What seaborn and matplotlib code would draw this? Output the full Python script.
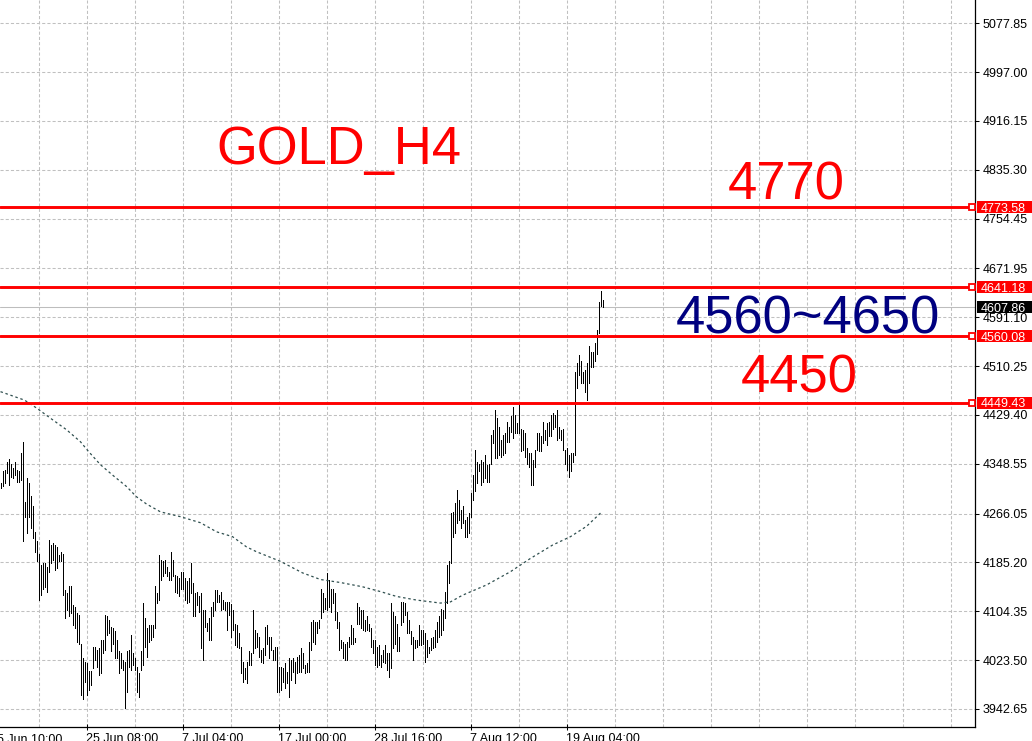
import numpy as np
import pandas as pd
import matplotlib
matplotlib.use("Agg")
import matplotlib.pyplot as plt
import seaborn as sns
from matplotlib.ticker import FixedLocator
from matplotlib.patches import Rectangle

# ---------------- data ----------------
highs = [
    4316, 4336, 4338, 4352, 4356, 4349, 4341, 4352, 4338, 4336,
    4367, 4385, 4286, 4325, 4316, 4295, 4278, 4236, 4221, 4200,
    4181, 4184, 4184, 4178, 4222, 4214, 4217, 4214, 4211, 4198,
    4202, 4200, 4140, 4134, 4146, 4146, 4115, 4112, 4101, 4098,
    4051, 4027, 4021, 4018, 4005, 4005, 4046, 4046, 4040, 4043,
    4057, 4057, 4098, 4096, 4090, 4079, 4076, 4071, 4057, 4038,
    4035, 4024, 4021, 4038, 4040, 4065, 4035, 4027, 4013, 4002,
    4038, 4118, 4093, 4076, 4082, 4082, 4082, 4146, 4134, 4198,
    4189, 4187, 4189, 4178, 4170, 4203, 4189, 4165, 4162, 4159,
    4170, 4170, 4159, 4154, 4159, 4184, 4151, 4134, 4137, 4129,
    4134, 4107, 4107, 4085, 4093, 4112, 4120, 4140, 4140, 4131,
    4137, 4123, 4120, 4120, 4120, 4117, 4107, 4083, 4082, 4068,
    4046, 4021, 4010, 4021, 4038,
    4035, 4107, 4073, 4068, 4062,
    4040, 4043, 4079, 4082, 4062, 4062, 4040, 4046, 4046, 4013,
    4013, 4010, 4018, 4004, 4027, 4024, 4027, 4021, 4029, 4032,
    4043, 4035, 4016, 4018, 4054, 4087, 4090, 4087, 4087, 4090,
    4142, 4134, 4126, 4167, 4156, 4142, 4142, 4134, 4104, 4087,
    4057, 4054, 4051, 4054, 4062, 4082, 4076, 4060, 4118, 4112,
    4107, 4107, 4090, 4096, 4084, 4076, 4057, 4057, 4046, 4049,
    4032, 4040, 4049, 4035, 4035, 4118, 4104, 4096, 4084, 4062,
    4120, 4120, 4118, 4104, 4090, 4071, 4062, 4057, 4057, 4082,
    4073, 4073, 4068, 4057, 4046, 4060, 4062, 4073, 4087, 4096,
    4109, 4107, 4137, 4181, 4187, 4267, 4269, 4283, 4305, 4289,
    4272, 4278, 4256, 4261, 4267, 4300, 4330, 4371, 4352, 4349,
    4355, 4352, 4363, 4347, 4349, 4396, 4405, 4438, 4424, 4410,
    4388, 4396, 4399, 4418, 4410, 4427, 4443, 4429, 4416, 4449,
    4407, 4405, 4399, 4374, 4366, 4366, 4355, 4371, 4399, 4399,
    4394, 4418, 4405, 4416, 4418, 4429, 4432, 4429, 4438, 4410,
    4405, 4407, 4371, 4374, 4363, 4366, 4366, 4501, 4515, 4529,
    4518, 4501, 4504, 4515, 4543, 4534, 4534, 4548, 4570, 4617,
    4634, 4620,
]
lows = [
    4308, 4311, 4316, 4333, 4314, 4327, 4325, 4330, 4319, 4319,
    4322, 4220, 4261, 4234, 4261, 4242, 4225, 4203, 4187, 4123,
    4131, 4142, 4145, 4137, 4170, 4184, 4189, 4173, 4176, 4187,
    4187, 4131, 4093, 4107, 4096, 4101, 4082, 4076, 4054, 4051,
    3966, 3960, 3988, 3966, 3974, 3982, 4010, 4024, 4013, 3999,
    4002, 4035, 4040, 4065, 4068, 4038, 4051, 4027, 4027, 4002,
    4010, 4007, 3944, 3971, 4013, 4007, 4016, 4007, 3971, 3963,
    4007, 4016, 4046, 4029, 4054, 4057, 4062, 4076, 4118, 4123,
    4156, 4162, 4167, 4162, 4156, 4156, 4162, 4137, 4134, 4129,
    4142, 4142, 4123, 4118, 4120, 4134, 4096, 4096, 4115, 4104,
    4043, 4024, 4079, 4071, 4057, 4057, 4096, 4107, 4120, 4120,
    4107, 4109, 4107, 4073, 4098, 4062, 4073, 4049, 4046, 4043,
    4002, 3988, 3993, 3985, 4016,
    4016, 4035, 4043, 4046, 4029,
    4021, 4018, 4032, 4051, 4027, 4040, 4024, 4024, 3971, 3971,
    3974, 3988, 3977, 3985, 3963, 3991, 4004, 3985, 4002, 4004,
    4004, 4010, 4002, 4004, 4004, 4040, 4054, 4051, 4068, 4076,
    4093, 4104, 4109, 4107, 4112, 4104, 4118, 4090, 4076, 4040,
    4043, 4027, 4024, 4024, 4046, 4051, 4051, 4054, 4084, 4084,
    4076, 4073, 4071, 4073, 4071, 4046, 4035, 4016, 4013, 4016,
    4013, 4021, 4018, 4007, 3996, 4010, 4043, 4051, 4038, 4038,
    4082, 4087, 4098, 4068, 4068, 4051, 4024, 4043, 4046, 4049,
    4049, 4051, 4021, 4029, 4035, 4040, 4043, 4046, 4054, 4062,
    4065, 4073, 4093, 4118, 4151, 4184, 4228, 4234, 4250, 4256,
    4242, 4250, 4228, 4228, 4234, 4261, 4289, 4303, 4316, 4336,
    4314, 4319, 4325, 4319, 4319, 4349, 4383, 4358, 4358, 4363,
    4360, 4363, 4366, 4385, 4385, 4402, 4391, 4399, 4399, 4399,
    4369, 4371, 4360, 4349, 4344, 4314, 4314, 4344, 4371, 4369,
    4369, 4383, 4388, 4380, 4394, 4394, 4407, 4410, 4388, 4391,
    4388, 4371, 4349, 4338, 4327, 4336, 4352, 4363, 4474, 4496,
    4482, 4482, 4468, 4454, 4482, 4509, 4509, 4518, 4531, 4565,
    4609, 4608,
]
ma_bar = [0, 12, 18, 25, 33, 40, 44, 50, 56, 63, 68, 73, 80, 90, 100, 108,
          116, 123, 128, 140, 151, 160, 170, 181, 190, 198, 208, 220, 225,
          231, 243, 255, 265, 276, 285, 293, 300]
ma_value = [4468, 4454, 4441, 4424, 4405, 4385, 4369, 4347, 4330, 4311, 4294,
            4282, 4269, 4261, 4251, 4236, 4228, 4211, 4203, 4187, 4168, 4157,
            4152, 4145, 4137, 4129, 4123, 4118, 4120, 4131, 4148, 4170, 4192,
            4214, 4228, 4245, 4267]

level_prices = [4773.58, 4641.18, 4560.08, 4449.43]
bid_price = 4607.86
ytick_values = [5077.85, 4997.00, 4916.15, 4835.30, 4754.45, 4671.95, 4591.10,
                4510.25, 4429.40, 4348.55, 4266.05, 4185.20, 4104.35, 4023.50,
                3942.65]
xtick_bars = [43, 91, 139, 187, 235, 283]
xtick_labels = ["25 Jun 08:00", "7 Jul 04:00", "17 Jul 00:00",
                "28 Jul 16:00", "7 Aug 12:00", "19 Aug 04:00"]
first_label_bar = -5
first_label = "15 Jun 10:00"
grid_bars = list(range(19, 480, 24))

title_text = "GOLD_H4"
note_texts = ["4770", "4560~4650", "4450"]

# ---------------- style ----------------
sns.set_theme(style="white")
plt.rcParams["font.family"] = ["Liberation Sans", "DejaVu Sans"]

W, H = 1032, 741
fig = plt.figure(figsize=(W / 100, H / 100), dpi=100)
fig.patch.set_facecolor("white")
ax = fig.add_axes([0, 14 / H, 975 / W, 1 - 14 / H])
ax.set_facecolor("white")

bars = pd.DataFrame({"bar": np.arange(len(highs)), "high": highs, "low": lows})
ax.vlines(bars["bar"], bars["low"], bars["high"], color="black",
          linewidth=0.7, zorder=3, antialiased=False)

ma = pd.DataFrame({"bar": ma_bar, "ma": ma_value})
sns.lineplot(data=ma, x="bar", y="ma", ax=ax, color="#2F4F4F",
             linewidth=0.9, zorder=3)
ax.lines[-1].set_linestyle((0, (2, 2.2)))

ax.set_xlim(-0.25, 487.25)
ax.set_ylim(3912.84, 5116.42)
ax.set_xlabel("")
ax.set_ylabel("")

# grid
grid_kw = dict(color="#C0C0C0", linestyle=(0, (3, 2)), linewidth=0.75)
ax.set_axisbelow(True)
ax.set_xticks(xtick_bars)
ax.set_xticklabels(xtick_labels)
ax.xaxis.set_minor_locator(FixedLocator(grid_bars))
ax.grid(True, which="both", axis="x", **grid_kw)
ax.set_yticks(ytick_values)
ax.set_yticklabels([f"{v:.2f}" for v in ytick_values])
ax.grid(True, which="major", axis="y", **grid_kw)

for lab in ax.get_xticklabels():
    lab.set_horizontalalignment("left")

ax.yaxis.tick_right()
ax.tick_params(axis="y", which="major", direction="out", length=3, width=0.75,
               pad=2.5, labelsize=9, colors="black", right=True, left=False)
ax.tick_params(axis="x", which="major", direction="inout", length=5,
               width=0.75, pad=2.0, labelsize=9, colors="black", bottom=True)
ax.tick_params(axis="x", which="minor", length=0)

for side in ["top", "left"]:
    ax.spines[side].set_visible(False)
for side in ["right", "bottom"]:
    ax.spines[side].set_visible(True)
    ax.spines[side].set_color("black")
    ax.spines[side].set_linewidth(0.9)

# first (partly hidden) date label, aligned with the other tick labels
fig.canvas.draw()
ref = ax.get_xticklabels()[0].get_window_extent()
first_txt = ax.text(first_label_bar, 0, first_label,
                    transform=ax.get_xaxis_transform(), ha="left",
                    va="baseline", fontsize=9, color="black", clip_on=False)
first_txt.set_y(ax.transAxes.inverted().transform((0, ref.y0 + 2.6))[1])

# bid line
ax.axhline(bid_price, color="#BDBDBD", linewidth=0.75, zorder=2)

# red levels
x_end = 487.25 - 1.5
for p in level_prices:
    ax.axhline(p, xmin=0, xmax=972 / 975, color="#FF0000", linewidth=2.1,
               zorder=4)
    ax.plot([x_end], [p], marker="s", markersize=4, markerfacecolor="white",
            markeredgecolor="#FF0000", markeredgewidth=1.3, zorder=5,
            clip_on=False)

# price labels on the right axis
def price_box(price, face):
    ypix = ax.transData.transform((0, price))[1]
    fig.add_artist(Rectangle((977 / W, (ypix - 6) / H), 55 / W, 12 / H,
                             transform=fig.transFigure, facecolor=face,
                             edgecolor="none", zorder=10))
    fig.text(981 / W, (ypix - 4.5) / H, f"{price:.2f}", color="white",
             fontsize=9, ha="left", va="baseline", zorder=11)

for p in level_prices:
    price_box(p, "#FF0000")
price_box(bid_price, "black")

# large annotations
big = 37.8
fig.text(216 / W, (H - 164) / H, title_text, color="#FF0000", fontsize=big,
         ha="left", va="baseline")
fig.text(727.5 / W, (H - 200) / H, note_texts[0], color="#FF0000",
         fontsize=big, ha="left", va="baseline")
fig.text(675.3 / W, (H - 333) / H, note_texts[1], color="#000080",
         fontsize=big, ha="left", va="baseline")
fig.text(740.3 / W, (H - 392.5) / H, note_texts[2], color="#FF0000",
         fontsize=big, ha="left", va="baseline")

fig.savefig("out.png", dpi=100, facecolor="white")
